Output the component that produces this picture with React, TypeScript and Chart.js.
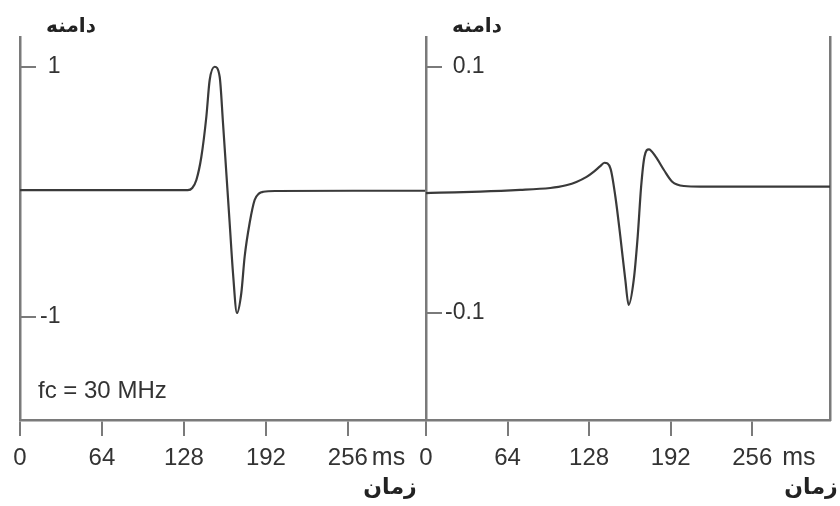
import React, { useEffect, useRef } from "react";
import { Chart, registerables } from "chart.js";

Chart.register(...registerables);

// Shared axis content
const TIME_TICKS = [0, 64, 128, 192, 256];
const TIME_SPAN = 317;
const UNIT_LABEL = "ms";
const AMPLITUDE_LABEL = "دامنه";
const TIME_LABEL = "زمان";
const NOTE_LABEL = "fc = 30 MHz";

// Left panel: incident pulse (ms, normalised amplitude)
const pulseTime = [0, 60, 120, 131, 134.5, 137.7, 141.6, 145.5, 148.1, 152.0, 155.9, 158.5, 161.1, 163.7, 166.3, 169.4, 172.8, 175.4, 179.3, 183.2, 186.5, 190, 200, 260, 317];
const pulseAmp = [0.013, 0.013, 0.013, 0.013, 0.03, 0.094, 0.28, 0.6, 0.894, 1.0, 0.92, 0.55, 0.15, -0.25, -0.65, -0.97, -0.81, -0.52, -0.25, -0.066, -0.015, 0.0, 0.006, 0.008, 0.008];
const pulseTicks = [-1, 1];

// Right panel: reflected response
const echoTime = [0, 11, 42.5, 73.9, 97.5, 104, 110, 118, 126, 132, 136.5, 140, 144.7, 148.6, 152.5, 156.4, 159.0, 163.0, 166.1, 168.8, 171.4, 174.9, 180.2, 186.7, 193.2, 202.4, 215.4, 260, 317];
const echoAmp = [-0.0026, -0.0023, -0.0015, -0.0001, 0.0015, 0.0024, 0.0037, 0.0064, 0.0105, 0.015, 0.019, 0.022, 0.0175, -0.0056, -0.038, -0.0732, -0.0935, -0.0732, -0.038, 0.0026, 0.0269, 0.0329, 0.0269, 0.0161, 0.0066, 0.0031, 0.0026, 0.0026, 0.0026];
const echoTicks = [-0.1, 0.1];

type Panel = {
  times: number[];
  amps: number[];
  yMin: number;
  yMax: number;
  yTicks: number[];
  yAxisWidth: number;
  yLabelPad: number;
  padRight: number;
  rightBorder: boolean;
  unitGap: number;
  timeLabelX: number;
  note: boolean;
};

const LATIN = '"Liberation Sans", Arial, sans-serif';
const ARABIC = '"DejaVu Sans", sans-serif';
const AXIS_COLOR = "#7a7a7a";
const TEXT_COLOR = "#333";

function makeChart(canvas: HTMLCanvasElement, p: Panel) {
  const textPlugin = {
    id: "panelText",
    afterDraw(chart: any) {
      const { ctx, chartArea, scales } = chart;
      ctx.save();
      ctx.fillStyle = TEXT_COLOR;
      ctx.textBaseline = "middle";
      ctx.font = `25px ${LATIN}`;
      ctx.textAlign = "left";
      ctx.fillText(UNIT_LABEL, scales.x.getPixelForValue(256) + p.unitGap, chartArea.bottom + 38);
      if (p.note) {
        ctx.font = `24px ${LATIN}`;
        ctx.fillText(NOTE_LABEL, chartArea.left + 18, 391);
      }
      ctx.textAlign = "center";
      ctx.fillStyle = "#222";
      ctx.font = `bold 20px ${ARABIC}`;
      ctx.fillText(AMPLITUDE_LABEL, chartArea.left + 51, 27);
      ctx.font = `bold 22px ${ARABIC}`;
      ctx.fillText(TIME_LABEL, p.timeLabelX, 488);
      ctx.restore();
    },
  };

  const scales: any = {
    x: {
      type: "linear",
      min: 0,
      max: TIME_SPAN,
      position: "bottom",
      afterBuildTicks: (s: any) => {
        s.ticks = TIME_TICKS.map((v) => ({ value: v }));
      },
      afterFit: (s: any) => {
        s.height = 86;
      },
      border: { display: true, color: AXIS_COLOR, width: 2.5 },
      grid: { drawOnChartArea: false, drawTicks: true, tickLength: 16, color: AXIS_COLOR, lineWidth: 2 },
      ticks: {
        color: TEXT_COLOR,
        font: { family: LATIN, size: 24 },
        padding: 8,
        maxRotation: 0,
        autoSkip: false,
        callback: (v: any) => String(v),
      },
    },
    y: {
      type: "linear",
      min: p.yMin,
      max: p.yMax,
      position: "left",
      afterBuildTicks: (s: any) => {
        s.ticks = p.yTicks.map((v) => ({ value: v }));
      },
      afterFit: (s: any) => {
        s.width = p.yAxisWidth;
      },
      border: { display: true, color: AXIS_COLOR, width: 2.5 },
      grid: { drawOnChartArea: false, drawTicks: true, tickLength: -16, color: AXIS_COLOR, lineWidth: 2 },
      ticks: {
        mirror: true,
        crossAlign: "far",
        padding: p.yLabelPad,
        color: TEXT_COLOR,
        font: { family: LATIN, size: 23 },
        callback: (v: any) => String(v),
      },
    },
  };

  if (p.rightBorder) {
    scales.yRight = {
      type: "linear",
      min: p.yMin,
      max: p.yMax,
      position: "right",
      afterFit: (s: any) => {
        s.width = 0;
      },
      border: { display: true, color: AXIS_COLOR, width: 2.5 },
      grid: { display: false, drawOnChartArea: false, drawTicks: false },
      ticks: { display: false },
    };
  }

  return new Chart(canvas, {
    type: "line",
    data: {
      datasets: [
        {
          data: p.times.map((t, i) => ({ x: t, y: p.amps[i] })),
          borderColor: "#3a3a3a",
          borderWidth: 2.2,
          pointRadius: 0,
          cubicInterpolationMode: "monotone",
          fill: false,
          yAxisID: "y",
        },
      ],
    },
    options: {
      responsive: false,
      animation: false,
      devicePixelRatio: 1,
      layout: { padding: { left: 0, right: p.padRight, top: 37, bottom: 0 } },
      plugins: { legend: { display: false }, tooltip: { enabled: false } },
      scales,
    },
    plugins: [textPlugin],
  });
}

export default function App() {
  const leftRef = useRef<HTMLCanvasElement | null>(null);
  const rightRef = useRef<HTMLCanvasElement | null>(null);

  useEffect(() => {
    const left = makeChart(leftRef.current!, {
      times: pulseTime,
      amps: pulseAmp,
      yMin: -1.826,
      yMax: 1.238,
      yTicks: pulseTicks,
      yAxisWidth: 20,
      yLabelPad: 20,
      padRight: 14,
      rightBorder: false,
      unitGap: 24,
      timeLabelX: 390,
      note: true,
    });
    const right = makeChart(rightRef.current!, {
      times: echoTime,
      amps: echoAmp,
      yMin: -0.1869,
      yMax: 0.1241,
      yTicks: echoTicks,
      yAxisWidth: 26,
      yLabelPad: 19,
      padRight: 10,
      rightBorder: true,
      unitGap: 30,
      timeLabelX: 411,
      note: false,
    });
    return () => {
      left.destroy();
      right.destroy();
    };
  }, []);

  return (
    <div style={{ position: "fixed", left: 0, top: 0, width: 840, height: 506, background: "#fff" }}>
      <canvas ref={leftRef} width={440} height={506} style={{ position: "absolute", left: 0, top: 0 }} />
      <canvas ref={rightRef} width={440} height={506} style={{ position: "absolute", left: 400, top: 0 }} />
    </div>
  );
}
